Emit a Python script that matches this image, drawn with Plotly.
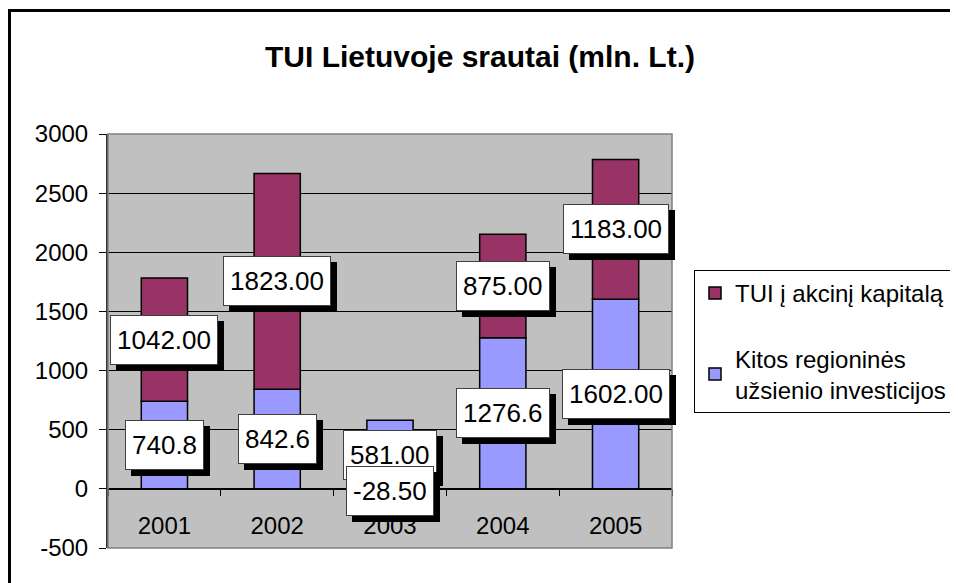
import plotly.graph_objects as go

years = ["2001", "2002", "2003", "2004", "2005"]
other_invest = [740.8, 842.6, 581.00, 1276.6, 1602.00]
equity_fdi = [1042.00, 1823.00, -28.50, 875.00, 1183.00]
other_labels = ["740.8", "842.6", "581.00", "1276.6", "1602.00"]
equity_labels = ["1042.00", "1823.00", "-28.50", "875.00", "1183.00"]
y_ticks = [-500, 0, 500, 1000, 1500, 2000, 2500, 3000]

name_other = "Kitos regioninės<br>užsienio investicijos"
name_equity = "TUI į akcinį kapitalą"

FONT = "Arial, Liberation Sans, sans-serif"
OFF = 8  # page body margin
W, H = 958 - OFF, 583 - OFF
L, R, T, B = 108 - OFF, 672 - OFF, 134 - OFF, 548 - OFF

fig = go.Figure()
fig.add_trace(go.Bar(x=years, y=other_invest, name=name_other,
                     marker=dict(color="#9999FF", line=dict(color="black", width=1.5)),
                     legendgroup="a", legendrank=2))
fig.add_trace(go.Bar(x=years, y=equity_fdi, name=name_equity,
                     marker=dict(color="#993366", line=dict(color="black", width=1.5)),
                     legendgroup="b", legendrank=1))

annotations = []
LBL = 26
def add_label(xi, yc, txt):
    common = dict(x=xi, y=yc, xref="x", yref="y", text=txt, showarrow=False,
                  borderpad=6, borderwidth=1, height=36)
    annotations.append(dict(common, bgcolor="black", bordercolor="black",
                            font=dict(family=FONT, size=LBL, color="black"),
                            xshift=6, yshift=-6))
    annotations.append(dict(common, bgcolor="white", bordercolor="#404040",
                            font=dict(family=FONT, size=LBL, color="black")))

for i, yr in enumerate(years):
    b = other_invest[i]
    r = equity_fdi[i]
    pos_base = max(b, 0)
    neg_base = min(b, 0)
    b_center = b / 2
    r_center = (pos_base + r / 2) if r >= 0 else (neg_base + r / 2)
    add_label(i, b_center, other_labels[i])
    add_label(i, r_center, equity_labels[i])

pw = R - L
ph = B - T
def px(xp): return (xp - OFF - L) / pw   # xp in screenshot pixels
def py(yp): return (B - (yp - OFF)) / ph

shapes = [
    dict(type="rect", xref="paper", yref="paper", x0=0, x1=1, y0=0, y1=1,
         line=dict(color="#808080", width=1.5), layer="above"),
    dict(type="rect", xref="paper", yref="paper", x0=px(9.5), x1=px(990), y0=py(620), y1=py(10.5),
         line=dict(color="black", width=3)),
]

fig.update_layout(
    width=W, height=H,
    margin=dict(l=L, r=W - R, t=T, b=H - B, pad=0, autoexpand=False),
    paper_bgcolor="white", plot_bgcolor="#C0C0C0",
    barmode="relative", bargap=0.59,
    title=dict(text="<b>TUI Lietuvoje srautai (mln. Lt.)</b>", x=(480 - OFF) / W, xanchor="center",
               y=1 - (56 - OFF) / H, yanchor="middle", yref="container",
               font=dict(family=FONT, size=30, color="black")),
    font=dict(family=FONT, color="black"),
    xaxis=dict(type="category", range=[-0.5, 4.5], anchor="free", position=py(489),
               showline=True, linecolor="black", linewidth=1,
               ticks="outside", tickson="boundaries", ticklen=6, tickcolor="black",
               tickfont=dict(family=FONT, size=24, color="black"),
               ticklabelstandoff=15, showgrid=False, tickangle=0, automargin=False),
    yaxis=dict(range=[-500, 3000], tickvals=y_ticks, ticktext=[str(v) for v in y_ticks],
               showgrid=True, gridcolor="black", gridwidth=1, zeroline=False,
               showline=True, linecolor="#333333", linewidth=2,
               ticks="outside", ticklen=7, tickcolor="black", ticklabelstandoff=6,
               tickfont=dict(family=FONT, size=24, color="black"), automargin=False),
    legend=dict(x=px(694), y=py(270), xanchor="left", yanchor="top",
                bgcolor="white", bordercolor="black", borderwidth=1,
                traceorder="grouped", tracegroupgap=31,
                font=dict(family=FONT, size=24, color="black")),
    annotations=annotations,
    shapes=shapes,
)

fig.write_html("out.html")
